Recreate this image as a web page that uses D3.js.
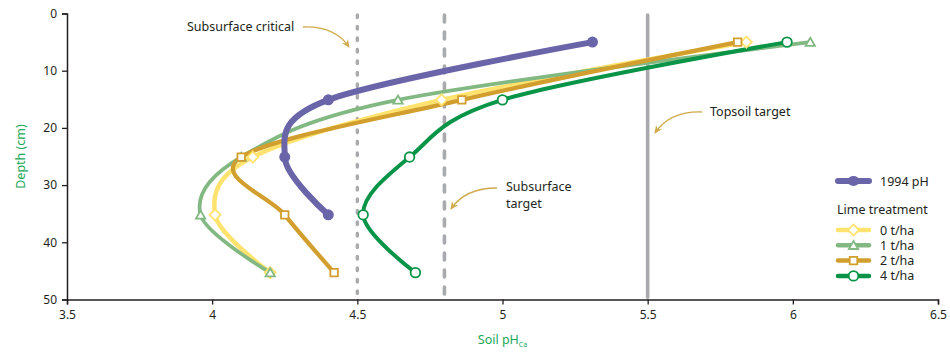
<!DOCTYPE html>
<html><head><meta charset="utf-8">
<script src="https://cdn.jsdelivr.net/npm/d3@7"></script>
<style>
body{margin:0;background:#fff;}
text{font-family:"Noto Sans",sans-serif;fill:#231f20;}
</style></head>
<body><svg id="c" width="950" height="352"></svg>
<script>
// ---- data ----
const depths = [5, 15.1, 25.1, 35.2, 45.3];
const ph1994 = [5.31, 4.40, 4.25, 4.40];
const lime0 = [5.84, 4.79, 4.14, 4.01, 4.20];
const lime1 = [6.06, 4.64, 4.10, 3.96, 4.20];
const lime2 = [5.81, 4.86, 4.10, 4.25, 4.42];
const lime4 = [5.98, 5.00, 4.68, 4.52, 4.70];
const xTicks = [3.5, 4, 4.5, 5, 5.5, 6, 6.5];
const yTicks = [0, 10, 20, 30, 40, 50];
const refLines = [{ph:4.5, kind:"dot"}, {ph:4.8, kind:"dash"}, {ph:5.5, kind:"solid"}];
const legendLabels = ["0 t/ha", "1 t/ha", "2 t/ha", "4 t/ha"];

const svg = d3.select("#c");
const x = d3.scaleLinear().domain([3.5, 6.5]).range([67, 938]);
const y = d3.scaleLinear().domain([0, 50]).range([13.5, 299.5]);

const C = {purple:"#6a64a8", yellow:"#ffe36e", lgreen:"#82b882", gold:"#d29f2e", dgreen:"#0a9447", grey:"#a9aaae", arrow:"#cfa94a", label:"#1aa85a"};

// reference lines
refLines.forEach(r => {
  const l = svg.append("line").attr("x1", x(r.ph)).attr("x2", x(r.ph))
    .attr("y1", y(0) + 1.5).attr("y2", y(49.6))
    .attr("stroke", C.grey).attr("stroke-linecap", "round");
  if (r.kind === "dot") l.attr("stroke-dasharray", "2.5 9").attr("stroke-width", 3.4);
  if (r.kind === "dash") l.attr("stroke-dasharray", "7 10").attr("stroke-width", 3.6);
  if (r.kind === "solid") l.attr("stroke-width", 3.6);
});

// axes
const xAxis = svg.append("g").attr("transform", `translate(0,${y(50)})`)
  .call(d3.axisBottom(x).tickValues(xTicks).tickSize(5).tickPadding(6).tickFormat(d3.format("")));
const yAxis = svg.append("g").attr("transform", `translate(${x(3.5)},0)`)
  .call(d3.axisLeft(y).tickValues(yTicks).tickSize(5).tickPadding(5));
[xAxis, yAxis].forEach(a => {
  a.select(".domain").attr("stroke", "#231f20").attr("stroke-width", 1.5);
  a.selectAll(".tick line").attr("stroke", "#231f20").attr("stroke-width", 1.3);
  a.selectAll(".tick text").style("font-family", "'Noto Sans',sans-serif").style("font-size", "12px").attr("fill", "#231f20");
});

// axis labels
const xl = svg.append("text").attr("x", x(5)).attr("y", 344).attr("text-anchor", "middle")
  .style("font-size", "12.5px").style("fill", C.label);
xl.append("tspan").text("Soil pH");
xl.append("tspan").text("Ca").attr("dy", 3).style("font-size", "7px").style("fill", C.label);
svg.append("text").attr("transform", `translate(25,${y(25)}) rotate(-90)`).attr("text-anchor", "middle")
  .style("font-size", "12.5px").style("fill", C.label).text("Depth (cm)");

// arrowhead marker
svg.append("defs").append("marker").attr("id", "ah").attr("viewBox", "0 0 10 10")
  .attr("refX", 8).attr("refY", 5).attr("markerWidth", 7).attr("markerHeight", 7)
  .attr("orient", "auto-start-reverse")
  .append("path").attr("d", "M0,1 L9,5 L0,9 L3,5 Z").attr("fill", C.arrow);

function arrow(x1, y1, cx, cy, x2, y2) {
  svg.append("path").attr("d", `M${x1},${y1} Q${cx},${cy} ${x2},${y2}`)
    .attr("fill", "none").attr("stroke", C.arrow).attr("stroke-width", 1.3).attr("marker-end", "url(#ah)");
}
// annotations
svg.append("text").attr("x", 187).attr("y", 31).style("font-size", "12.5px").text("Subsurface critical");
arrow(303, 27, 335, 26, 349, 47);
svg.append("text").attr("x", 710).attr("y", 115.5).style("font-size", "12.5px").text("Topsoil target");
arrow(702, 112, 670, 111, 655, 133);
svg.append("text").attr("x", 506).attr("y", 191).style("font-size", "12.5px").text("Subsurface");
svg.append("text").attr("x", 506).attr("y", 208).style("font-size", "12.5px").text("target");
arrow(497, 188, 465, 188, 451, 209);

// series
const line = d3.line().x(d => x(d[0])).y(d => y(d[1])).curve(d3.curveCatmullRom.alpha(0));
const series = [
  {vals: lime0, color: C.yellow, w: 4.5, sym: "diamond"},
  {vals: lime1, color: C.lgreen, w: 3.8, sym: "triangle"},
  {vals: lime2, color: C.gold, w: 4.2, sym: "square"},
  {vals: lime4, color: C.dgreen, w: 4, sym: "circle"},
];

function drawMarker(g, sym, cx, cy, color, stroke) {
  let s;
  if (sym === "diamond") s = g.append("path").attr("d", d3.symbol(d3.symbolDiamond2, 78)());
  else if (sym === "triangle") s = g.append("path").attr("d", d3.symbol(d3.symbolTriangle2, 62)());
  else if (sym === "square") s = g.append("path").attr("d", d3.symbol(d3.symbolSquare2, 72)());
  else s = g.append("circle").attr("r", 4.8);
  s.attr("transform", `translate(${cx},${cy + (sym === "triangle" ? 1 : 0)})`)
    .attr("fill", "#fff").attr("stroke", color).attr("stroke-width", stroke || 1.8);
}

series.forEach(s => {
  const pts = s.vals.map((v, i) => [v, depths[i]]);
  svg.append("path").attr("d", line(pts)).attr("fill", "none").attr("stroke", s.color)
    .attr("stroke-width", s.w).attr("stroke-linecap", "round");
});
series.forEach(s => {
  const g = svg.append("g");
  s.vals.forEach((v, i) => drawMarker(g, s.sym, x(v), y(depths[i]), s.color));
});

// 1994
const p94 = ph1994.map((v, i) => [v, depths[i]]);
svg.append("path").attr("d", line(p94)).attr("fill", "none").attr("stroke", C.purple)
  .attr("stroke-width", 6).attr("stroke-linecap", "round");
svg.selectAll(".p94").data(p94).enter().append("circle")
  .attr("cx", d => x(d[0])).attr("cy", d => y(d[1])).attr("r", 5.5).attr("fill", C.purple);

// legend
const lg = svg.append("g");
lg.append("line").attr("x1", 838).attr("x2", 869).attr("y1", 181).attr("y2", 181)
  .attr("stroke", C.purple).attr("stroke-width", 6).attr("stroke-linecap", "round");
lg.append("ellipse").attr("cx", 853.5).attr("cy", 181).attr("rx", 6).attr("ry", 5).attr("fill", C.purple);
lg.append("text").attr("x", 880).attr("y", 185.5).style("font-size", "12.5px").text("1994 pH");
lg.append("text").attr("x", 837).attr("y", 213.5).style("font-size", "12.5px").text("Lime treatment");
series.forEach((s, i) => {
  const yy = 230 + i * 15.3;
  lg.append("line").attr("x1", 838).attr("x2", 869).attr("y1", yy).attr("y2", yy)
    .attr("stroke", s.color).attr("stroke-width", 4.5).attr("stroke-linecap", "round");
  drawMarker(lg, s.sym, 853.5, yy, s.color);
  lg.append("text").attr("x", 880).attr("y", yy + 4.5).style("font-size", "12.5px").text(legendLabels[i]);
});
</script></body></html>
